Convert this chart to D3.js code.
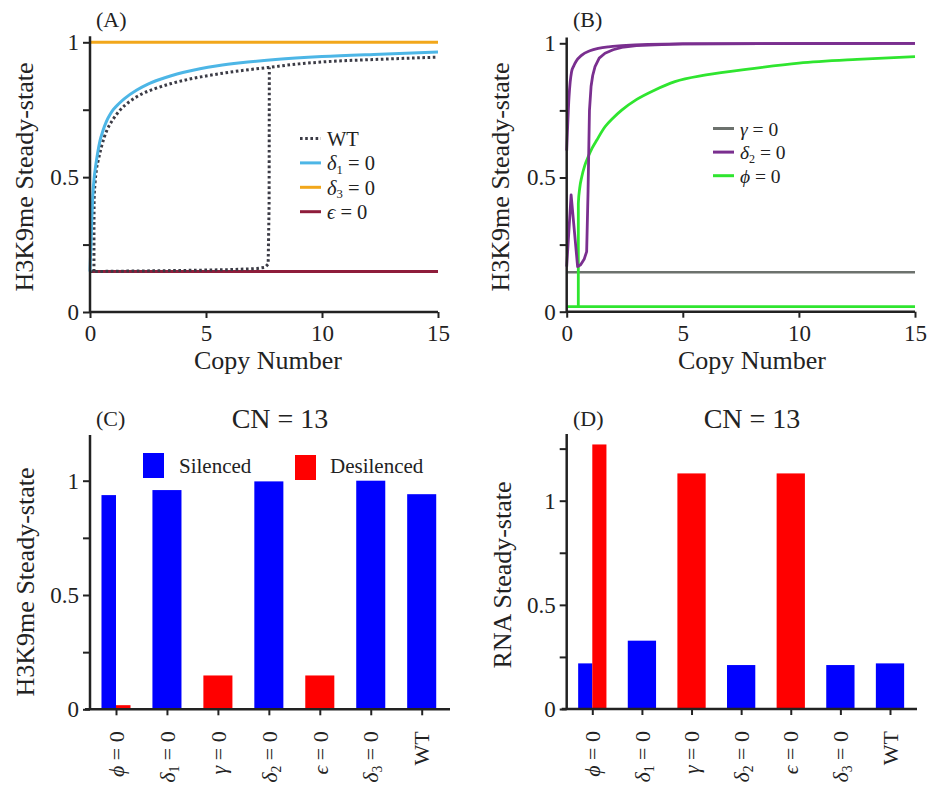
<!DOCTYPE html>
<html>
<head>
<meta charset="utf-8">
<script src="https://cdn.jsdelivr.net/npm/d3@7"></script>
<style>
body { margin: 0; background: #fff; }
text { font-family: "Liberation Serif", "Times New Roman", serif; fill: #222; }
</style>
</head>
<body>
<script>
// ---------- data ----------
const copyTicks = [0, 5, 10, 15];
const steadyTicks = [0, 0.25, 0.5, 0.75, 1];

// panel A: [copy number, H3K9me]
const wtUpper = [[0.17,0.15],[0.171,0.3],[0.18,0.42],[0.22,0.48],[0.28,0.53],[0.36,0.564],[0.5,0.615],[0.72,0.672],[1.0,0.715],[1.29,0.748],[1.7,0.78],[2.2,0.807],[2.8,0.828],[3.5,0.847],[4.2,0.862],[5,0.875],[6,0.889],[7,0.9],[7.7,0.907],[9,0.92],[10,0.927],[12.5,0.937],[15,0.945]];
const wtLower = [[0,0.15],[2,0.152],[4,0.154],[6,0.157],[7.2,0.161],[7.55,0.166],[7.68,0.178],[7.72,0.4],[7.73,0.907]];
const delta1Curve = [[0,0.15],[0.04,0.25],[0.08,0.35],[0.12,0.43],[0.18,0.497],[0.25,0.545],[0.33,0.59],[0.43,0.635],[0.55,0.67],[0.7,0.705],[0.85,0.73],[1.0,0.75],[1.25,0.773],[1.5,0.792],[2.0,0.822],[2.5,0.845],[3,0.862],[3.5,0.876],[4,0.888],[4.74,0.902],[5.5,0.913],[6.5,0.924],[8,0.936],[10,0.947],[12.5,0.956],[15,0.964]];
const delta3Curve = [[0,1],[15,1]];
const epsCurve = [[0,0.15],[15,0.15]];

// panel B
const gammaCurve = [[0,0.147],[15,0.147]];
const delta2Upper = [[0,0.6],[0.1,0.8],[0.21,0.894],[0.3,0.915],[0.4,0.932],[0.65,0.956],[1.0,0.972],[1.36,0.981],[1.8,0.987],[2.37,0.991],[3.5,0.996],[5,0.998],[15,1]];
const delta2Lower = [[0,0.168],[0.19,0.435],[0.47,0.168],[0.6,0.175],[0.75,0.195],[0.86,0.224],[0.92,0.45],[0.98,0.75],[1.05,0.84],[1.12,0.88],[1.22,0.913],[1.4,0.945],[1.65,0.963],[2.0,0.976],[2.37,0.985],[3.0,0.991],[3.8,0.994],[5,0.998],[15,1]];
const phiLower = [[0,0.019],[15,0.019]];
const phiUpper = [[0.5,0.019],[0.501,0.404],[0.56,0.46],[0.65,0.503],[0.78,0.545],[0.93,0.578],[1.1,0.61],[1.3,0.64],[1.65,0.689],[2.0,0.722],[2.37,0.751],[3,0.79],[3.8,0.826],[4.66,0.857],[6,0.882],[8,0.906],[10,0.926],[12.5,0.94],[15,0.95]];

// panels C and D: CN = 13
const barCategories = ["phi", "delta1", "gamma", "delta2", "eps", "delta3", "WT"];
const barTickLabels = [
  [{t: "\u03D5", it: 1}, {t: " = 0"}],
  [{t: "\u03B4", it: 1}, {t: "1", sub: 1}, {t: " = 0"}],
  [{t: "\u03B3", it: 1}, {t: " = 0"}],
  [{t: "\u03B4", it: 1}, {t: "2", sub: 1}, {t: " = 0"}],
  [{t: "\u03F5", it: 1}, {t: " = 0"}],
  [{t: "\u03B4", it: 1}, {t: "3", sub: 1}, {t: " = 0"}],
  [{t: "WT"}]
];
const silencedH3K9 = [0.937, 0.959, null, 0.997, null, 1.0, 0.941];
const desilencedH3K9 = [0.018, null, 0.148, null, 0.148, null, null];
const silencedRNA = [0.219, 0.328, null, 0.211, null, 0.211, 0.219];
const desilencedRNA = [1.27, null, 1.131, null, 1.131, null, null];

const legendA = [
  {parts: [{t: "WT"}], color: "#3b3b45", dash: "2.6,2.6"},
  {parts: [{t: "\u03B4", it: 1}, {t: "1", sub: 1}, {t: " = 0"}], color: "#4db6e6"},
  {parts: [{t: "\u03B4", it: 1}, {t: "3", sub: 1}, {t: " = 0"}], color: "#f2a71b"},
  {parts: [{t: "\u03F5", it: 1}, {t: " = 0"}], color: "#8e1d3b"}
];
const legendB = [
  {parts: [{t: "\u03B3", it: 1}, {t: " = 0"}], color: "#6c716d"},
  {parts: [{t: "\u03B4", it: 1}, {t: "2", sub: 1}, {t: " = 0"}], color: "#7a2f8f"},
  {parts: [{t: "\u03D5", it: 1}, {t: " = 0"}], color: "#2fe52f"}
];

const BLUE = "#0000ff", RED = "#ff0000", AXIS = "#222";

// ---------- helpers ----------
const svg = d3.select("body").append("svg").attr("width", 927).attr("height", 788);

function rich(text, parts, size) {
  let shifted = false;
  parts.forEach(p => {
    const ts = text.append("tspan").text(p.t);
    if (p.it) ts.attr("font-style", "italic");
    if (p.sub) { ts.attr("font-size", size * 0.62).attr("dy", size * 0.18); shifted = true; }
    else if (shifted) { ts.attr("dy", -size * 0.18); shifted = false; }
  });
}

function styleAxis(g, size) {
  g.attr("font-family", null).attr("font-size", size).attr("color", AXIS);
  g.select(".domain").remove();
  g.selectAll(".tick line").attr("stroke-width", 2);
}

function yAxis(g, y, ticks, labelled) {
  const ax = d3.axisLeft(y).tickValues(ticks)
    .tickFormat(d => labelled.includes(d) ? String(d) : "")
    .tickSize(7).tickPadding(4);
  g.call(ax);
  styleAxis(g, 23);
}

function linePanel(x, y, yTopVal, series) {
  const [x0, x1] = x.range();
  const gx = svg.append("g").attr("transform", `translate(0,${y(0)})`);
  gx.call(d3.axisBottom(x).tickValues(copyTicks).tickSize(6).tickPadding(7));
  styleAxis(gx, 23);
  const gy = svg.append("g").attr("transform", `translate(${x0},0)`);
  yAxis(gy, y, steadyTicks, [0, 0.5, 1]);

  series.forEach(s => {
    const line = d3.line().x(d => x(d[0])).y(d => y(d[1]))
      .curve(s.smooth ? d3.curveMonotoneX : d3.curveLinear);
    svg.append("path").datum(s.data).attr("d", line)
      .attr("fill", "none").attr("stroke", s.color).attr("stroke-width", s.width || 3)
      .attr("stroke-dasharray", s.dash || null).attr("stroke-linejoin", "round");
  });
  svg.append("line").attr("x1", x0).attr("x2", x1).attr("y1", y(0)).attr("y2", y(0))
    .attr("stroke", AXIS).attr("stroke-width", 2.5);
  svg.append("line").attr("x1", x0).attr("x2", x0).attr("y1", y(yTopVal)).attr("y2", y(0) + 1)
    .attr("stroke", AXIS).attr("stroke-width", 2.5);
}

function legend(items, lx, ly, rowH, size) {
  items.forEach((it, i) => {
    const yy = ly + i * rowH;
    svg.append("line").attr("x1", lx).attr("x2", lx + 21).attr("y1", yy).attr("y2", yy)
      .attr("stroke", it.color).attr("stroke-width", 3).attr("stroke-dasharray", it.dash || null);
    const t = svg.append("text").attr("x", lx + 27).attr("y", yy).attr("dy", "0.36em").attr("font-size", size);
    rich(t, it.parts, size);
  });
}

function barPanel(cx0, cx1, y, yTopVal, axisX0, axisX1, silenced, desilenced, yTicks) {
  const x = d3.scalePoint().domain(barCategories).range([cx0, cx1]);
  const w = x.step() * 0.57;
  const g = svg.append("g");
  barCategories.forEach((c, i) => {
    const s = silenced[i], d = desilenced[i];
    const cx = x(c);
    if (s != null && d != null) {
      g.append("rect").attr("x", cx - w / 2).attr("width", w / 2).attr("y", y(s)).attr("height", y(0) - y(s)).attr("fill", BLUE);
      g.append("rect").attr("x", cx).attr("width", w / 2).attr("y", y(d)).attr("height", y(0) - y(d)).attr("fill", RED);
    } else {
      const v = s != null ? s : d;
      g.append("rect").attr("x", cx - w / 2).attr("width", w).attr("y", y(v)).attr("height", y(0) - y(v))
        .attr("fill", s != null ? BLUE : RED);
    }
  });
  const gx = svg.append("g").attr("transform", `translate(0,${y(0)})`);
  gx.call(d3.axisBottom(x).tickSize(6).tickFormat(""));
  styleAxis(gx, 21);
  const gy = svg.append("g").attr("transform", `translate(${axisX0 + 5},0)`);
  yAxis(gy, y, yTicks, [0, 0.5, 1]);
  svg.append("line").attr("x1", axisX0).attr("x2", axisX1).attr("y1", y(0)).attr("y2", y(0))
    .attr("stroke", AXIS).attr("stroke-width", 2.5);
  svg.append("line").attr("x1", axisX0 + 5).attr("x2", axisX0 + 5).attr("y1", y(yTopVal)).attr("y2", y(0))
    .attr("stroke", AXIS).attr("stroke-width", 2.5);
  barTickLabels.forEach((parts, i) => {
    const t = svg.append("text")
      .attr("transform", `translate(${x(barCategories[i])},${y(0) + 22}) rotate(-90)`)
      .attr("text-anchor", "end").attr("dy", "0.35em").attr("font-size", 22);
    rich(t, parts, 22);
  });
}

function label(txt, x, y, size, rotate, anchor) {
  svg.append("text").attr("transform", `translate(${x},${y})${rotate ? " rotate(-90)" : ""}`)
    .attr("text-anchor", anchor || "middle").attr("font-size", size)
    .attr("dy", rotate ? "0.35em" : null).text(txt);
}

// ---------- panel A ----------
const xA = d3.scaleLinear().domain([0, 15]).range([90, 438]);
const yA = d3.scaleLinear().domain([0, 1]).range([312, 42.3]);
linePanel(xA, yA, 1.022, [
  {data: epsCurve, color: "#8e1d3b"},
  {data: wtLower, color: "#3b3b45", dash: "2.6,2.6"},
  {data: wtUpper, color: "#3b3b45", dash: "2.6,2.6", smooth: true},
  {data: delta1Curve, color: "#4db6e6", smooth: true},
  {data: delta3Curve, color: "#f2a71b"}
]);
legend(legendA, 300, 138.5, 24.4, 20.5);
label("(A)", 96, 27, 22, false, "start");
label("Copy Number", 268, 369, 26);
label("H3K9me Steady-state", 24, 177, 26, true);

// ---------- panel B ----------
const xB = d3.scaleLinear().domain([0, 15]).range([566.7, 915]);
const yB = d3.scaleLinear().domain([0, 1]).range([311.7, 43.3]);
linePanel(xB, yB, 1.022, [
  {data: gammaCurve, color: "#6c716d", width: 2.6},
  {data: phiLower, color: "#2fe52f", width: 2.8},
  {data: phiUpper, color: "#2fe52f", width: 2.8, smooth: true},
  {data: delta2Lower, color: "#7a2f8f", width: 2.8},
  {data: delta2Upper, color: "#7a2f8f", width: 2.8, smooth: true}
]);
legend(legendB, 713, 128.5, 23.6, 19.5);
label("(B)", 573, 27, 22, false, "start");
label("Copy Number", 752, 369, 26);
label("H3K9me Steady-state", 500, 177, 26, true);

// ---------- panel C ----------
const yC = d3.scaleLinear().domain([0, 1]).range([709.3, 480.7]);
barPanel(116, 421.7, yC, 1.2, 85, 450, silencedH3K9, desilencedH3K9, steadyTicks);
svg.append("rect").attr("x", 143).attr("y", 453).attr("width", 21).attr("height", 25).attr("fill", BLUE);
svg.append("text").attr("x", 179).attr("y", 473).attr("font-size", 21).text("Silenced");
svg.append("rect").attr("x", 295).attr("y", 455).attr("width", 21).attr("height", 25).attr("fill", RED);
svg.append("text").attr("x", 330).attr("y", 473).attr("font-size", 21).text("Desilenced");
label("(C)", 96, 426, 22, false, "start");
label("CN = 13", 280, 428, 28);
label("H3K9me Steady-state", 25, 582, 26, true);

// ---------- panel D ----------
const yD = d3.scaleLinear().domain([0, 1]).range([709, 500.7]);
barPanel(592.3, 890, yD, 1.32, 561.7, 917, silencedRNA, desilencedRNA, [0, 0.25, 0.5, 0.75, 1, 1.25]);
label("(D)", 573, 426, 22, false, "start");
label("CN = 13", 752, 428, 28);
label("RNA Steady-state", 502, 575, 26, true);
</script>
</body>
</html>
